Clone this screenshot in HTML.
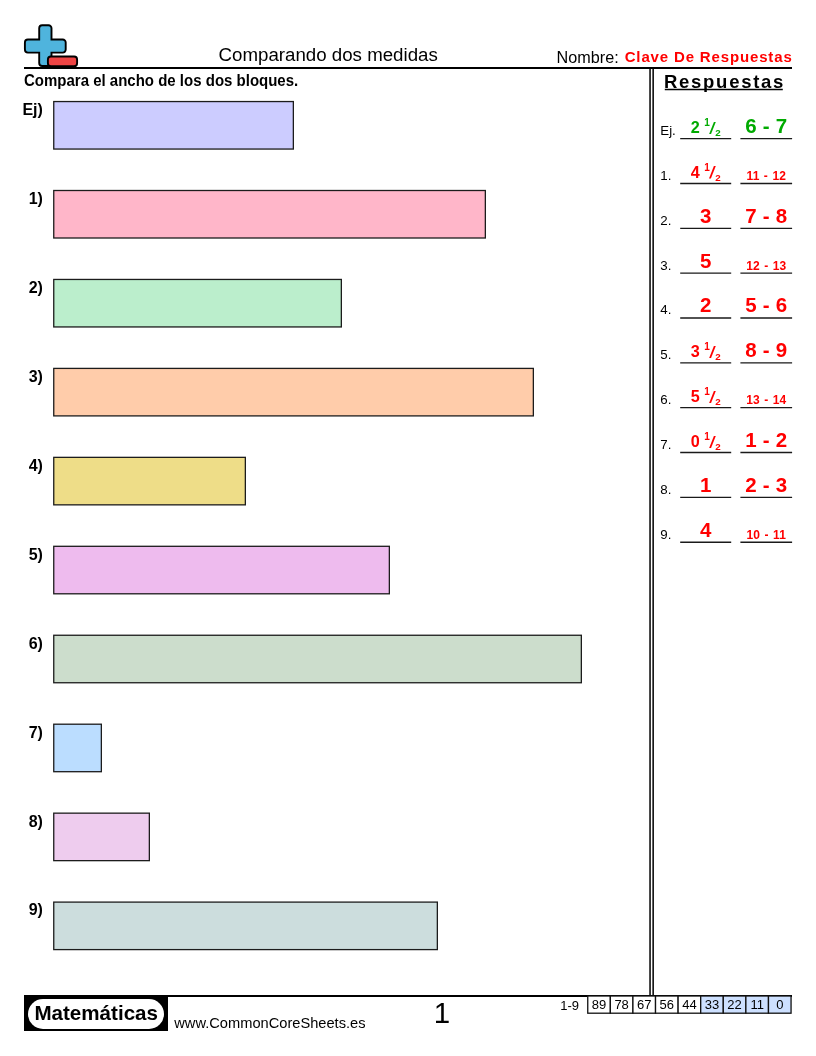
<!DOCTYPE html>
<html>
<head>
<meta charset="utf-8">
<title>Comparando dos medidas</title>
<style>
html,body{margin:0;padding:0;background:#fff;}
body{width:816px;height:1056px;position:relative;overflow:hidden;font-family:"Liberation Sans",sans-serif;color:#000;}
.abs{position:absolute;white-space:nowrap;line-height:1;}
.bar{position:absolute;left:53px;height:49px;box-sizing:border-box;border:1.3px solid #1a1a1a;}
.lbl{position:absolute;white-space:nowrap;line-height:1;font-weight:bold;font-size:16px;text-align:right;width:30px;left:12.9px;}
.num{position:absolute;white-space:nowrap;line-height:1;font-size:13.3px;left:660.3px;}
.ln{position:absolute;height:1.6px;background:#222;}
.a1{position:absolute;white-space:nowrap;line-height:1;font-weight:bold;text-align:center;left:680.5px;width:50.5px;color:#f00;}
.a2{position:absolute;white-space:nowrap;line-height:1;font-weight:bold;text-align:center;left:740.5px;width:51.5px;color:#f00;}
.g{color:#0a0 !important;}
.big{font-size:20.5px;word-spacing:0.4px;}
.mid{font-size:16.2px;}
.sm{font-size:12px;word-spacing:1px;letter-spacing:0.1px;}
.fr .s{font-size:10px;position:relative;top:-6.7px;margin-left:4.4px;margin-right:-0.2px;}
.fr .sl{display:inline-block;width:6.8px;height:12.4px;vertical-align:-1.3px;margin-left:-0.2px;margin-right:-0.4px;}
.fr .b{font-size:9.8px;position:relative;top:3.3px;margin-left:-0.6px;}
.cell{position:absolute;top:997.1px;height:15px;font-size:13px;line-height:15px;text-align:center;}
</style>
</head>
<body>
<div id="page" style="position:absolute;left:0;top:0;width:816px;height:1056px;will-change:transform;">

<!-- logo -->
<svg class="abs" style="left:20px;top:20px" width="64" height="52" viewBox="20 20 64 52">
  <path d="M42.2 25.3 H48.5 A3.0 3.0 0 0 1 51.5 28.3 V39.5 H62.7 A3.0 3.0 0 0 1 65.7 42.5 V49.6 A3.0 3.0 0 0 1 62.7 52.6 H51.5 V63 A3.0 3.0 0 0 1 48.5 66 H42.2 A3.0 3.0 0 0 1 39.2 63 V52.6 H27.9 A3.0 3.0 0 0 1 24.9 49.6 V42.5 A3.0 3.0 0 0 1 27.9 39.5 H39.2 V28.3 A3.0 3.0 0 0 1 42.2 25.3 Z" fill="#4fb4dd" stroke="#000" stroke-width="1.9"/>
  <rect x="47.9" y="56.5" width="29.2" height="9.8" rx="3" fill="#ee4444" stroke="#000" stroke-width="1.9"/>
</svg>

<!-- header -->
<div class="abs" id="title" style="left:218.6px;top:45.6px;font-size:18.7px;">Comparando dos medidas</div>
<div class="abs" id="nombre" style="left:556.6px;top:48.6px;font-size:16.2px;">Nombre:</div>
<div class="abs" id="clave" style="left:624.7px;top:49.4px;font-size:15px;font-weight:bold;color:#f00;letter-spacing:0.85px;">Clave De Respuestas</div>
<div class="abs" style="left:24px;top:67px;width:768px;height:2.2px;background:#000;"></div>

<div class="abs" id="instr" style="left:24px;top:72.5px;font-size:15px;font-weight:bold;transform:scaleY(1.06);transform-origin:0 12.7px;">Compara el ancho de los dos bloques.</div>

<!-- vertical double line -->
<svg class="abs" style="left:0;top:0" width="816" height="1056" viewBox="0 0 816 1056" stroke="#000" fill="none">
<path d="M650.05 68.5V996M653.15 68.5V996" stroke-width="1.5"/>
<path d="M664.8 89.45H782.8" stroke-width="1.5"/>
</svg>

<!-- Respuestas -->
<div class="abs" id="resp" style="left:664px;top:72.6px;font-size:18.5px;font-weight:bold;letter-spacing:1.72px;">Respuestas</div>

<!-- bars -->
<div id="bars">
<div class="lbl" style="top:101.9px;">Ej)</div>
<div class="lbl" style="top:190.8px;">1)</div>
<div class="lbl" style="top:279.8px;">2)</div>
<div class="lbl" style="top:368.7px;">3)</div>
<div class="lbl" style="top:457.7px;">4)</div>
<div class="lbl" style="top:546.6px;">5)</div>
<div class="lbl" style="top:635.6px;">6)</div>
<div class="lbl" style="top:724.5px;">7)</div>
<div class="lbl" style="top:813.5px;">8)</div>
<div class="lbl" style="top:902.4px;">9)</div>
<svg class="abs" style="left:0;top:0" width="816" height="1056" viewBox="0 0 816 1056" fill="none" stroke="#1c1c1c" stroke-width="1.3">
<rect x="53.75" y="101.55" width="239.6" height="47.5" fill="#ccccff"/>
<rect x="53.75" y="190.50" width="431.6" height="47.5" fill="#ffb6c9"/>
<rect x="53.75" y="279.45" width="287.6" height="47.5" fill="#bbeecc"/>
<rect x="53.75" y="368.40" width="479.6" height="47.5" fill="#ffccaa"/>
<rect x="53.75" y="457.35" width="191.6" height="47.5" fill="#eedd88"/>
<rect x="53.75" y="546.30" width="335.6" height="47.5" fill="#eebbee"/>
<rect x="53.75" y="635.25" width="527.6" height="47.5" fill="#ccddcc"/>
<rect x="53.75" y="724.20" width="47.6" height="47.5" fill="#bbddff"/>
<rect x="53.75" y="813.15" width="95.6" height="47.5" fill="#eeccee"/>
<rect x="53.75" y="902.10" width="383.6" height="47.5" fill="#ccdddd"/>
</svg>
</div><!--/bars-->

<!-- answers -->
<div id="answers">
<div class="num" style="top:123.9px;">Ej.</div>
<div class="a1 mid fr g" style="top:118.7px;">2<span class="s">1</span><svg class="sl" viewBox="0 0 6.8 12.4"><path d="M0 12.4 L4.9 0 L6.8 0 L1.9 12.4z" fill="currentColor"/></svg><span class="b">2</span></div>
<div class="a2 big g" style="top:115.9px;">6 - 7</div>
<div class="num" style="top:168.8px;">1.</div>
<div class="a1 mid fr" style="top:163.5px;">4<span class="s">1</span><svg class="sl" viewBox="0 0 6.8 12.4"><path d="M0 12.4 L4.9 0 L6.8 0 L1.9 12.4z" fill="currentColor"/></svg><span class="b">2</span></div>
<div class="a2 sm" style="top:169.9px;">11 - 12</div>
<div class="num" style="top:213.6px;">2.</div>
<div class="a1 big" style="top:205.6px;">3</div>
<div class="a2 big" style="top:205.6px;">7 - 8</div>
<div class="num" style="top:258.5px;">3.</div>
<div class="a1 big" style="top:250.5px;">5</div>
<div class="a2 sm" style="top:259.6px;">12 - 13</div>
<div class="num" style="top:303.3px;">4.</div>
<div class="a1 big" style="top:295.3px;">2</div>
<div class="a2 big" style="top:295.3px;">5 - 6</div>
<div class="num" style="top:348.1px;">5.</div>
<div class="a1 mid fr" style="top:342.9px;">3<span class="s">1</span><svg class="sl" viewBox="0 0 6.8 12.4"><path d="M0 12.4 L4.9 0 L6.8 0 L1.9 12.4z" fill="currentColor"/></svg><span class="b">2</span></div>
<div class="a2 big" style="top:340.1px;">8 - 9</div>
<div class="num" style="top:393.0px;">6.</div>
<div class="a1 mid fr" style="top:387.7px;">5<span class="s">1</span><svg class="sl" viewBox="0 0 6.8 12.4"><path d="M0 12.4 L4.9 0 L6.8 0 L1.9 12.4z" fill="currentColor"/></svg><span class="b">2</span></div>
<div class="a2 sm" style="top:394.1px;">13 - 14</div>
<div class="num" style="top:437.8px;">7.</div>
<div class="a1 mid fr" style="top:432.6px;">0<span class="s">1</span><svg class="sl" viewBox="0 0 6.8 12.4"><path d="M0 12.4 L4.9 0 L6.8 0 L1.9 12.4z" fill="currentColor"/></svg><span class="b">2</span></div>
<div class="a2 big" style="top:429.8px;">1 - 2</div>
<div class="num" style="top:482.7px;">8.</div>
<div class="a1 big" style="top:474.7px;">1</div>
<div class="a2 big" style="top:474.7px;">2 - 3</div>
<div class="num" style="top:527.5px;">9.</div>
<div class="a1 big" style="top:519.5px;">4</div>
<div class="a2 sm" style="top:528.6px;">10 - 11</div>
<svg class="abs" style="left:0;top:0" width="816" height="1056" viewBox="0 0 816 1056" stroke="#1a1a1a" stroke-width="1.35" fill="none"><path d="M680.2 138.65H731.2M740.4 138.65H792.1M680.2 183.49H731.2M740.4 183.49H792.1M680.2 228.33H731.2M740.4 228.33H792.1M680.2 273.17H731.2M740.4 273.17H792.1M680.2 318.01H731.2M740.4 318.01H792.1M680.2 362.85H731.2M740.4 362.85H792.1M680.2 407.69H731.2M740.4 407.69H792.1M680.2 452.53H731.2M740.4 452.53H792.1M680.2 497.37H731.2M740.4 497.37H792.1M680.2 542.21H731.2M740.4 542.21H792.1"/></svg>
</div><!--/answers-->

<!-- footer -->
<div class="abs" style="left:24px;top:995px;width:768px;height:1.8px;background:#000;"></div>
<div class="abs" style="left:24.3px;top:995px;width:143.5px;height:35.8px;background:#000;"></div>
<div class="abs" id="pill" style="left:27.5px;top:999.2px;width:136.8px;height:29.6px;border-radius:15px;background:#fff;"></div>
<div class="abs" id="mate" style="left:34.4px;top:1003.4px;font-size:20.6px;font-weight:bold;">Matemáticas</div>
<div class="abs" id="www" style="left:174.3px;top:1015.6px;font-size:14.65px;">www.CommonCoreSheets.es</div>
<div class="abs" id="pnum" style="left:433.7px;top:998px;font-size:29.5px;">1</div>
<div class="abs" id="rng" style="left:560.2px;top:998.6px;font-size:13px;">1-9</div>
<div id="cells">
<svg class="abs" style="left:0;top:0" width="816" height="1056" viewBox="0 0 816 1056" stroke="#111" stroke-width="1.3">
<rect x="587.75" y="996" width="22.59" height="17.2" fill="#fff"/>
<rect x="610.34" y="996" width="22.59" height="17.2" fill="#fff"/>
<rect x="632.93" y="996" width="22.59" height="17.2" fill="#fff"/>
<rect x="655.52" y="996" width="22.59" height="17.2" fill="#fff"/>
<rect x="678.11" y="996" width="22.59" height="17.2" fill="#fff"/>
<rect x="700.70" y="996" width="22.59" height="17.2" fill="#cde0ff"/>
<rect x="723.29" y="996" width="22.59" height="17.2" fill="#cde0ff"/>
<rect x="745.88" y="996" width="22.59" height="17.2" fill="#cde0ff"/>
<rect x="768.47" y="996" width="22.59" height="17.2" fill="#cde0ff"/>
</svg>
<div class="cell" style="left:587.75px;width:22.59px;">89</div>
<div class="cell" style="left:610.34px;width:22.59px;">78</div>
<div class="cell" style="left:632.93px;width:22.59px;">67</div>
<div class="cell" style="left:655.52px;width:22.59px;">56</div>
<div class="cell" style="left:678.11px;width:22.59px;">44</div>
<div class="cell" style="left:700.70px;width:22.59px;">33</div>
<div class="cell" style="left:723.29px;width:22.59px;">22</div>
<div class="cell" style="left:745.88px;width:22.59px;">11</div>
<div class="cell" style="left:768.47px;width:22.59px;">0</div>
</div><!--/cells-->

</div>
</body>
</html>
